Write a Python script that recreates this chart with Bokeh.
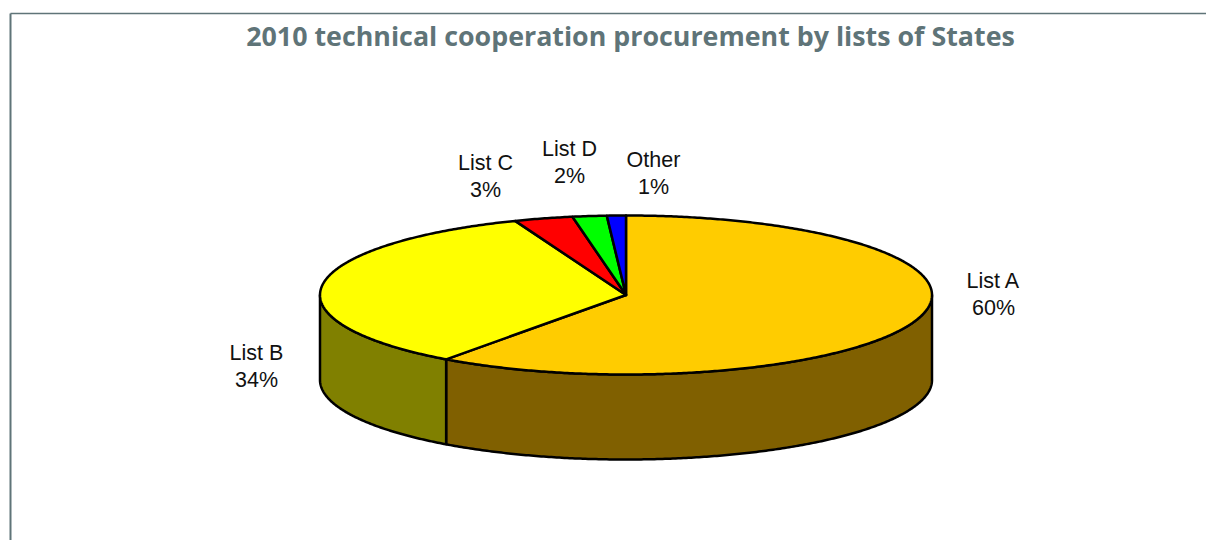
import numpy as np
from bokeh.plotting import figure
from bokeh.models import ColumnDataSource, Range1d
from bokeh.core.properties import value
from bokeh.embed import file_html
from bokeh.resources import INLINE

title_text = "2010 technical cooperation procurement by lists of States"
categories = ["List A", "List B", "List C", "List D", "Other"]
shares = [60.0, 34.1, 3.1, 1.8, 1.0]
percent_labels = ["60%", "34%", "3%", "2%", "1%"]
top_colors = ["#FFCC00", "#FFFF00", "#FF0000", "#00FF00", "#0000FF"]
side_colors = ["#806000", "#808000", "#800000", "#008000", "#000080"]

# Projection of the tilted pie, in page pixels
CX, CY, RX, RY, DEPTH = 625.5, 294.5, 306.0, 79.5, 85.0
label_x = [993, 256, 485, 569, 653]
label_y = [280, 352, 162, 148, 159]
LINE_GAP = 27


def project(deg):
    a = np.radians(deg)
    return CX + RX * np.sin(a), CY - RY * np.cos(a)


p = figure(width=1206, height=540, output_backend="svg", toolbar_location=None,
           x_range=Range1d(10, 1206), y_range=Range1d(540, 13),
           min_border_left=10, min_border_top=13, min_border_right=0, min_border_bottom=0,
           x_axis_location="above", background_fill_color="white", border_fill_color="white")
p.grid.visible = False
p.outline_line_color = None
for ax, w in ((p.xaxis[0], 1.5), (p.yaxis[0], 2)):
    ax.ticker = []
    ax.axis_line_color = "#5F7478"
    ax.axis_line_width = w
    ax.major_tick_line_color = None
    ax.minor_tick_line_color = None

edges = np.concatenate([[0.0], np.cumsum(shares)]) * 360.0 / sum(shares)

side_xs, side_ys, side_fill = [], [], []
top_xs, top_ys = [], []
for i in range(len(shares)):
    a0, a1 = edges[i], edges[i + 1]
    t = np.linspace(a0, a1, max(3, int(a1 - a0) * 2 + 2))
    x, y = project(t)
    top_xs.append(np.concatenate([[CX], x]).tolist())
    top_ys.append(np.concatenate([[CY], y]).tolist())
    # Only the near half of the rim is visible
    s0, s1 = max(a0, 90.0), min(a1, 270.0)
    if s1 > s0:
        t = np.linspace(s0, s1, int(s1 - s0) * 2 + 2)
        x, y = project(t)
        side_xs.append(np.concatenate([x, x[::-1]]).tolist())
        side_ys.append(np.concatenate([y, y[::-1] + DEPTH]).tolist())
        side_fill.append(side_colors[i])

p.patches("xs", "ys", source=ColumnDataSource(dict(xs=side_xs, ys=side_ys, c=side_fill)),
          fill_color="c", line_color="black", line_width=2.5, line_join="round")
p.patches("xs", "ys", source=ColumnDataSource(dict(xs=top_xs, ys=top_ys, c=top_colors)),
          fill_color="c", line_color="black", line_width=2.5, line_join="round")

p.text(x=label_x, y=label_y, text=categories, text_font=value("Liberation Sans"),
       text_font_size="21.5px", text_color="#111111", text_align="center", text_baseline="middle")
p.text(x=label_x, y=[v + LINE_GAP for v in label_y], text=percent_labels,
       text_font=value("Liberation Sans"), text_font_size="21.5px", text_color="#111111",
       text_align="center", text_baseline="middle")
p.text(x=[630], y=[35], text=[title_text], text_font=value("Open Sans"), text_font_style="bold",
       text_font_size="26.8px", text_color="#5F7478", text_align="center", text_baseline="middle")

open("out.html", "w").write(file_html(p, INLINE))
